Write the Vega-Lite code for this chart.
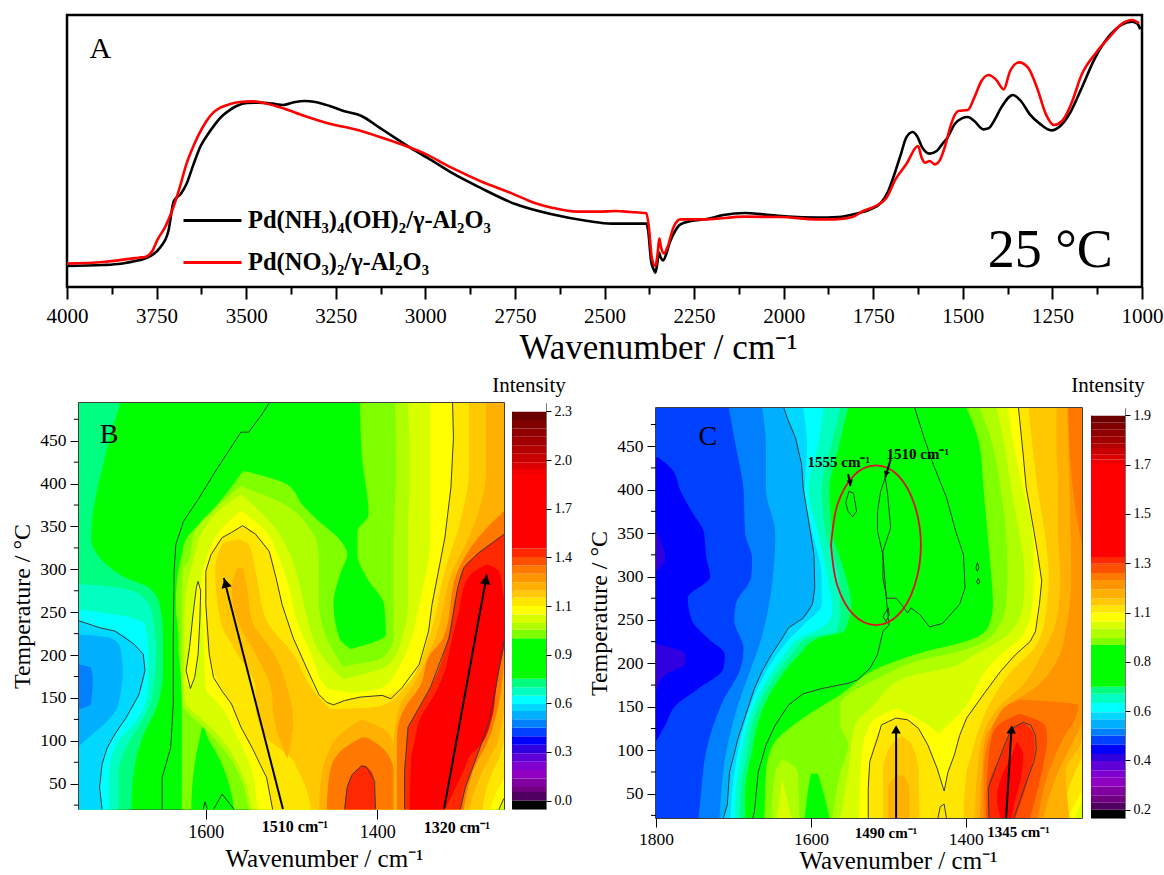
{"$schema":"https://vega.github.io/schema/vega-lite/v6.json","background":"white","padding":{"left":10,"top":13,"right":0,"bottom":0},"config":{"view":{"stroke":null},"font":"Liberation Serif","axis":{"grid":false,"labelFont":"Liberation Serif","titleFont":"Liberation Serif","titleFontWeight":"normal","labelColor":"black","titleColor":"black","tickColor":"black","domainColor":"black","labelOverlap":false,"labelBound":false,"labelFlush":false},"title":{"font":"Liberation Serif","fontWeight":"normal","color":"black"}},"spacing":7,"resolve":{"scale":{"color":"independent"}},"vconcat":[{"width":1075,"height":272,"view":{"stroke":"black","strokeWidth":2.5},"layer":[{"data":{"values":[
{"s":"N","w":4000,"y":63},{"s":"N","w":3900,"y":66},{"s":"N","w":3850,"y":70},{"s":"N","w":3800,"y":80},{"s":"N","w":3780,"y":86},{"s":"N","w":3759,"y":98},{"s":"N","w":3739,"y":120},{"s":"N","w":3717,"y":168},{"s":"N","w":3702,"y":258},{"s":"N","w":3682,"y":280},{"s":"N","w":3667,"y":308},{"s":"N","w":3647,"y":368},{"s":"N","w":3627,"y":423},{"s":"N","w":3607,"y":458},{"s":"N","w":3587,"y":488},{"s":"N","w":3567,"y":513},{"s":"N","w":3547,"y":530},{"s":"N","w":3527,"y":543},{"s":"N","w":3497,"y":552},{"s":"N","w":3467,"y":553},{"s":"N","w":3427,"y":550},{"s":"N","w":3397,"y":546},{"s":"N","w":3367,"y":554},{"s":"N","w":3337,"y":558},{"s":"N","w":3307,"y":555},{"s":"N","w":3267,"y":543},{"s":"N","w":3228,"y":528},{"s":"N","w":3178,"y":513},{"s":"N","w":3128,"y":478},{"s":"N","w":3078,"y":443},{"s":"N","w":3027,"y":408},{"s":"N","w":2987,"y":383},{"s":"N","w":2927,"y":343},{"s":"N","w":2847,"y":298},{"s":"N","w":2747,"y":248},{"s":"N","w":2647,"y":218},{"s":"N","w":2547,"y":198},{"s":"N","w":2480,"y":190},{"s":"N","w":2383,"y":190},{"s":"N","w":2378,"y":168},{"s":"N","w":2370,"y":78},{"s":"N","w":2363,"y":53},{"s":"N","w":2358,"y":43},{"s":"N","w":2353,"y":68},{"s":"N","w":2348,"y":103},{"s":"N","w":2343,"y":88},{"s":"N","w":2336,"y":80},{"s":"N","w":2328,"y":98},{"s":"N","w":2318,"y":133},{"s":"N","w":2303,"y":168},{"s":"N","w":2288,"y":188},{"s":"N","w":2258,"y":198},{"s":"N","w":2218,"y":203},{"s":"N","w":2168,"y":216},{"s":"N","w":2108,"y":222},{"s":"N","w":2058,"y":218},{"s":"N","w":1988,"y":211},{"s":"N","w":1908,"y":208},{"s":"N","w":1848,"y":210},{"s":"N","w":1798,"y":220},{"s":"N","w":1758,"y":233},{"s":"N","w":1728,"y":253},{"s":"N","w":1708,"y":288},{"s":"N","w":1688,"y":348},{"s":"N","w":1673,"y":398},{"s":"N","w":1658,"y":448},{"s":"N","w":1640,"y":465},{"s":"N","w":1628,"y":453},{"s":"N","w":1613,"y":418},{"s":"N","w":1593,"y":400},{"s":"N","w":1573,"y":408},{"s":"N","w":1558,"y":428},{"s":"N","w":1543,"y":448},{"s":"N","w":1523,"y":488},{"s":"N","w":1503,"y":506},{"s":"N","w":1486,"y":510},{"s":"N","w":1468,"y":498},{"s":"N","w":1443,"y":473},{"s":"N","w":1428,"y":476},{"s":"N","w":1413,"y":498},{"s":"N","w":1393,"y":538},{"s":"N","w":1360,"y":576},{"s":"N","w":1338,"y":558},{"s":"N","w":1313,"y":518},{"s":"N","w":1283,"y":488},{"s":"N","w":1253,"y":470},{"s":"N","w":1228,"y":483},{"s":"N","w":1198,"y":528},{"s":"N","w":1168,"y":598},{"s":"N","w":1133,"y":683},{"s":"N","w":1088,"y":758},{"s":"N","w":1058,"y":786},{"s":"N","w":1028,"y":796},{"s":"N","w":1013,"y":790},{"s":"N","w":1005,"y":773},
{"s":"P","w":4000,"y":70},{"s":"P","w":3900,"y":75},{"s":"P","w":3800,"y":88},{"s":"P","w":3780,"y":91},{"s":"P","w":3762,"y":108},{"s":"P","w":3747,"y":143},{"s":"P","w":3727,"y":178},{"s":"P","w":3707,"y":228},{"s":"P","w":3687,"y":293},{"s":"P","w":3667,"y":368},{"s":"P","w":3647,"y":423},{"s":"P","w":3632,"y":458},{"s":"P","w":3612,"y":496},{"s":"P","w":3592,"y":523},{"s":"P","w":3572,"y":538},{"s":"P","w":3547,"y":548},{"s":"P","w":3517,"y":555},{"s":"P","w":3482,"y":557},{"s":"P","w":3447,"y":551},{"s":"P","w":3397,"y":536},{"s":"P","w":3337,"y":513},{"s":"P","w":3267,"y":490},{"s":"P","w":3197,"y":473},{"s":"P","w":3127,"y":450},{"s":"P","w":3047,"y":420},{"s":"P","w":3007,"y":403},{"s":"P","w":2927,"y":358},{"s":"P","w":2847,"y":318},{"s":"P","w":2757,"y":280},{"s":"P","w":2697,"y":253},{"s":"P","w":2647,"y":238},{"s":"P","w":2577,"y":226},{"s":"P","w":2517,"y":226},{"s":"P","w":2468,"y":228},{"s":"P","w":2428,"y":225},{"s":"P","w":2383,"y":221},{"s":"P","w":2376,"y":178},{"s":"P","w":2368,"y":88},{"s":"P","w":2358,"y":63},{"s":"P","w":2352,"y":98},{"s":"P","w":2347,"y":146},{"s":"P","w":2342,"y":118},{"s":"P","w":2334,"y":101},{"s":"P","w":2323,"y":123},{"s":"P","w":2308,"y":178},{"s":"P","w":2288,"y":203},{"s":"P","w":2218,"y":203},{"s":"P","w":2108,"y":211},{"s":"P","w":2008,"y":210},{"s":"P","w":1908,"y":203},{"s":"P","w":1858,"y":203},{"s":"P","w":1808,"y":210},{"s":"P","w":1778,"y":228},{"s":"P","w":1738,"y":246},{"s":"P","w":1713,"y":268},{"s":"P","w":1688,"y":323},{"s":"P","w":1658,"y":368},{"s":"P","w":1625,"y":423},{"s":"P","w":1615,"y":388},{"s":"P","w":1605,"y":373},{"s":"P","w":1593,"y":378},{"s":"P","w":1578,"y":368},{"s":"P","w":1563,"y":383},{"s":"P","w":1548,"y":428},{"s":"P","w":1533,"y":488},{"s":"P","w":1513,"y":528},{"s":"P","w":1486,"y":531},{"s":"P","w":1468,"y":568},{"s":"P","w":1448,"y":618},{"s":"P","w":1428,"y":636},{"s":"P","w":1408,"y":623},{"s":"P","w":1386,"y":593},{"s":"P","w":1368,"y":648},{"s":"P","w":1343,"y":674},{"s":"P","w":1318,"y":658},{"s":"P","w":1293,"y":598},{"s":"P","w":1268,"y":518},{"s":"P","w":1246,"y":486},{"s":"P","w":1223,"y":498},{"s":"P","w":1198,"y":548},{"s":"P","w":1168,"y":638},{"s":"P","w":1128,"y":703},{"s":"P","w":1088,"y":753},{"s":"P","w":1058,"y":788},{"s":"P","w":1028,"y":801},{"s":"P","w":1008,"y":791}]},"mark":{"type":"line","strokeWidth":2.6,"interpolate":"monotone"},"encoding":{"x":{"field":"w","type":"quantitative","scale":{"domain":[4000,1000],"nice":false,"zero":false},"axis":{"title":"Wavenumber / cm⁻¹","titleFontSize":35,"titlePadding":4,"titleX":591,"labelFontSize":21,"labelPadding":6,"domain":false,"tickWidth":2,"values":[4000,3875,3750,3625,3500,3375,3250,3125,3000,2875,2750,2625,2500,2375,2250,2125,2000,1875,1750,1625,1500,1375,1250,1125,1000],"tickSize":{"condition":{"test":"datum.value % 250 === 0","value":12},"value":7},"labelExpr":"datum.value % 250 === 0 ? datum.label : ''","format":"d"}},"y":{"field":"y","type":"quantitative","scale":{"domain":[0,816],"nice":false,"zero":false},"axis":null},"color":{"field":"s","type":"nominal","scale":{"domain":["N","P"],"range":["black","#ff0000"]},"legend":{"orient":"none","legendX":115,"legendY":175,"title":null,"symbolType":"stroke","symbolSize":3364,"symbolStrokeWidth":3,"labelFont":"Liberation Serif","labelFontWeight":"bold","labelFontSize":24.5,"labelColor":"black","labelLimit":500,"rowPadding":-20,"labelOffset":5,"labelExpr":"datum.label === 'N' ? 'Pd(NH₃)₄(OH)₂/γ-Al₂O₃' : 'Pd(NO₃)₂/γ-Al₂O₃'"}}}},{"data":{"values":[{"w":3907,"y":713,"s":"A"}]},"mark":{"type":"text","fontSize":30,"font":"Liberation Serif","color":"black"},"encoding":{"x":{"field":"w","type":"quantitative","scale":{"domain":[4000,1000],"nice":false,"zero":false}},"y":{"field":"y","type":"quantitative","scale":{"domain":[0,816],"nice":false,"zero":false}},"text":{"field":"s"}}},{"data":{"values":[{"w":1256,"y":108,"s":"25 °C"}]},"mark":{"type":"text","fontSize":54,"font":"Liberation Serif","color":"black"},"encoding":{"x":{"field":"w","type":"quantitative","scale":{"domain":[4000,1000],"nice":false,"zero":false}},"y":{"field":"y","type":"quantitative","scale":{"domain":[0,816],"nice":false,"zero":false}},"text":{"field":"s"}}}]},
{"spacing":15,"resolve":{"scale":{"color":"independent"}},"hconcat":[{"bounds":"flush","spacing":8,"resolve":{"scale":{"color":"independent"}},"hconcat":[{"width":4,"height":1,"data":{"values":[]},"mark":"rect","encoding":{}},
{"width":425,"height":406,"view":{"stroke":"black","strokeWidth":1.5},"layer":[{"data":{"values":[
{"p":0,"v":0.8,"t":20,"a":1748,"b":1252},{"p":0,"v":0.8,"t":494,"a":1748,"b":1252},
{"p":1,"v":0.67,"t":494,"a":1748,"b":1700},{"p":1,"v":0.67,"t":434,"a":1748,"b":1717},{"p":1,"v":0.67,"t":337,"a":1748,"b":1734},{"p":1,"v":0.67,"t":313,"a":1748,"b":1723},{"p":1,"v":0.67,"t":290,"a":1748,"b":1693},{"p":1,"v":0.67,"t":279,"a":1748,"b":1667},{"p":1,"v":0.67,"t":259,"a":1748,"b":1654},{"p":1,"v":0.67,"t":220,"a":1748,"b":1650},{"p":1,"v":0.67,"t":182,"a":1748,"b":1650},{"p":1,"v":0.67,"t":143,"a":1748,"b":1656},{"p":1,"v":0.67,"t":104,"a":1748,"b":1674},{"p":1,"v":0.67,"t":65,"a":1748,"b":1684},{"p":1,"v":0.67,"t":20,"a":1748,"b":1687},
{"p":2,"v":0.62,"t":283,"a":1748,"b":1748},{"p":2,"v":0.62,"t":280,"a":1748,"b":1710},{"p":2,"v":0.62,"t":270,"a":1748,"b":1676},{"p":2,"v":0.62,"t":250,"a":1748,"b":1663},{"p":2,"v":0.62,"t":200,"a":1748,"b":1658},{"p":2,"v":0.62,"t":150,"a":1748,"b":1663},{"p":2,"v":0.62,"t":120,"a":1748,"b":1676},{"p":2,"v":0.62,"t":100,"a":1748,"b":1689},{"p":2,"v":0.62,"t":60,"a":1748,"b":1702},{"p":2,"v":0.62,"t":20,"a":1748,"b":1702},
{"p":3,"v":0.57,"t":253,"a":1748,"b":1748},{"p":3,"v":0.57,"t":245,"a":1748,"b":1693},{"p":3,"v":0.57,"t":235,"a":1748,"b":1671},{"p":3,"v":0.57,"t":200,"a":1748,"b":1667},{"p":3,"v":0.57,"t":150,"a":1748,"b":1669},{"p":3,"v":0.57,"t":120,"a":1748,"b":1684},{"p":3,"v":0.57,"t":100,"a":1748,"b":1702},{"p":3,"v":0.57,"t":60,"a":1748,"b":1713},{"p":3,"v":0.57,"t":20,"a":1748,"b":1713},
{"p":4,"v":0.53,"t":240,"a":1748,"b":1748},{"p":4,"v":0.53,"t":232,"a":1748,"b":1724},{"p":4,"v":0.53,"t":228,"a":1748,"b":1706},{"p":4,"v":0.53,"t":213,"a":1748,"b":1684},{"p":4,"v":0.53,"t":201,"a":1748,"b":1673},{"p":4,"v":0.53,"t":182,"a":1748,"b":1671},{"p":4,"v":0.53,"t":154,"a":1748,"b":1678},{"p":4,"v":0.53,"t":127,"a":1748,"b":1693},{"p":4,"v":0.53,"t":108,"a":1748,"b":1706},{"p":4,"v":0.53,"t":92,"a":1748,"b":1715},{"p":4,"v":0.53,"t":73,"a":1748,"b":1721},{"p":4,"v":0.53,"t":46,"a":1748,"b":1724},{"p":4,"v":0.53,"t":20,"a":1748,"b":1721},
{"p":5,"v":0.48,"t":224,"a":1748,"b":1748},{"p":5,"v":0.48,"t":220,"a":1748,"b":1711},{"p":5,"v":0.48,"t":209,"a":1748,"b":1700},{"p":5,"v":0.48,"t":182,"a":1748,"b":1697},{"p":5,"v":0.48,"t":143,"a":1748,"b":1702},{"p":5,"v":0.48,"t":119,"a":1748,"b":1719},{"p":5,"v":0.48,"t":108,"a":1748,"b":1732},{"p":5,"v":0.48,"t":94,"a":1748,"b":1748},
{"p":6,"v":0.43,"t":189,"a":1748,"b":1748},{"p":6,"v":0.43,"t":185,"a":1748,"b":1734},{"p":6,"v":0.43,"t":170,"a":1748,"b":1732},{"p":6,"v":0.43,"t":143,"a":1748,"b":1734},{"p":6,"v":0.43,"t":137,"a":1748,"b":1748},
{"p":10,"v":0.96,"t":207,"a":1632,"b":1252},{"p":10,"v":0.96,"t":143,"a":1628,"b":1252},{"p":10,"v":0.96,"t":20,"a":1628,"b":1252},
{"p":11,"v":0.96,"t":207,"a":1632,"b":1431},{"p":11,"v":0.96,"t":220,"a":1632,"b":1444},{"p":11,"v":0.96,"t":259,"a":1635,"b":1451},{"p":11,"v":0.96,"t":298,"a":1632,"b":1442},{"p":11,"v":0.96,"t":317,"a":1628,"b":1435},{"p":11,"v":0.96,"t":337,"a":1622,"b":1446},{"p":11,"v":0.96,"t":356,"a":1604,"b":1468},{"p":11,"v":0.96,"t":375,"a":1587,"b":1487},{"p":11,"v":0.96,"t":399,"a":1568,"b":1505},{"p":11,"v":0.96,"t":414,"a":1557,"b":1552},
{"p":12,"v":0.96,"t":207,"a":1431,"b":1252},{"p":12,"v":0.96,"t":224,"a":1390,"b":1252},{"p":12,"v":0.96,"t":259,"a":1392,"b":1252},{"p":12,"v":0.96,"t":290,"a":1412,"b":1252},{"p":12,"v":0.96,"t":317,"a":1423,"b":1252},{"p":12,"v":0.96,"t":344,"a":1423,"b":1252},{"p":12,"v":0.96,"t":364,"a":1410,"b":1252},{"p":12,"v":0.96,"t":434,"a":1418,"b":1252},{"p":12,"v":0.96,"t":494,"a":1420,"b":1252},
{"p":13,"v":0.8,"t":123,"a":1603,"b":1603},{"p":13,"v":0.8,"t":104,"a":1607,"b":1598},{"p":13,"v":0.8,"t":85,"a":1611,"b":1587},{"p":13,"v":0.8,"t":46,"a":1616,"b":1572},{"p":13,"v":0.8,"t":20,"a":1617,"b":1567},
{"p":14,"v":1.01,"t":187,"a":1629,"b":1252},{"p":14,"v":1.01,"t":143,"a":1627,"b":1252},{"p":14,"v":1.01,"t":123,"a":1611,"b":1252},{"p":14,"v":1.01,"t":104,"a":1591,"b":1252},{"p":14,"v":1.01,"t":65,"a":1563,"b":1252},{"p":14,"v":1.01,"t":20,"a":1550,"b":1252},
{"p":15,"v":1.01,"t":187,"a":1629,"b":1440},{"p":15,"v":1.01,"t":220,"a":1628,"b":1459},{"p":15,"v":1.01,"t":259,"a":1628,"b":1468},{"p":15,"v":1.01,"t":298,"a":1627,"b":1468},{"p":15,"v":1.01,"t":313,"a":1619,"b":1468},{"p":15,"v":1.01,"t":337,"a":1615,"b":1472},{"p":15,"v":1.01,"t":348,"a":1611,"b":1479},{"p":15,"v":1.01,"t":375,"a":1585,"b":1507},{"p":15,"v":1.01,"t":397,"a":1560,"b":1559},
{"p":16,"v":1.01,"t":187,"a":1440,"b":1252},{"p":16,"v":1.01,"t":197,"a":1394,"b":1252},{"p":16,"v":1.01,"t":220,"a":1381,"b":1252},{"p":16,"v":1.01,"t":337,"a":1381,"b":1252},{"p":16,"v":1.01,"t":414,"a":1378,"b":1252},{"p":16,"v":1.01,"t":494,"a":1379,"b":1252},
{"p":17,"v":1.05,"t":172,"a":1626,"b":1252},{"p":17,"v":1.05,"t":143,"a":1623,"b":1252},{"p":17,"v":1.05,"t":131,"a":1611,"b":1252},{"p":17,"v":1.05,"t":104,"a":1583,"b":1252},{"p":17,"v":1.05,"t":65,"a":1559,"b":1252},{"p":17,"v":1.05,"t":20,"a":1546,"b":1252},
{"p":18,"v":1.05,"t":172,"a":1626,"b":1440},{"p":18,"v":1.05,"t":201,"a":1625,"b":1466},{"p":18,"v":1.05,"t":240,"a":1625,"b":1481},{"p":18,"v":1.05,"t":279,"a":1622,"b":1490},{"p":18,"v":1.05,"t":313,"a":1614,"b":1500},{"p":18,"v":1.05,"t":344,"a":1604,"b":1516},{"p":18,"v":1.05,"t":368,"a":1585,"b":1537},{"p":18,"v":1.05,"t":387,"a":1559,"b":1559},
{"p":19,"v":1.05,"t":172,"a":1440,"b":1252},{"p":19,"v":1.05,"t":189,"a":1386,"b":1252},{"p":19,"v":1.05,"t":220,"a":1371,"b":1252},{"p":19,"v":1.05,"t":259,"a":1364,"b":1252},{"p":19,"v":1.05,"t":337,"a":1364,"b":1252},{"p":19,"v":1.05,"t":414,"a":1362,"b":1252},{"p":19,"v":1.05,"t":494,"a":1364,"b":1252},
{"p":20,"v":1.1,"t":286,"a":1609,"b":1609},{"p":20,"v":1.1,"t":275,"a":1612,"b":1606},{"p":20,"v":1.1,"t":240,"a":1615,"b":1607},{"p":20,"v":1.1,"t":201,"a":1619,"b":1609},{"p":20,"v":1.1,"t":174,"a":1623,"b":1613},{"p":20,"v":1.1,"t":161,"a":1618,"b":1618},
{"p":21,"v":1.1,"t":156,"a":1598,"b":1252},{"p":21,"v":1.1,"t":143,"a":1585,"b":1252},{"p":21,"v":1.1,"t":104,"a":1563,"b":1252},{"p":21,"v":1.1,"t":65,"a":1546,"b":1252},{"p":21,"v":1.1,"t":34,"a":1541,"b":1252},{"p":21,"v":1.1,"t":20,"a":1539,"b":1258},
{"p":22,"v":1.1,"t":156,"a":1598,"b":1429},{"p":22,"v":1.1,"t":162,"a":1600,"b":1459},{"p":22,"v":1.1,"t":201,"a":1602,"b":1477},{"p":22,"v":1.1,"t":240,"a":1604,"b":1494},{"p":22,"v":1.1,"t":279,"a":1606,"b":1503},{"p":22,"v":1.1,"t":317,"a":1598,"b":1516},{"p":22,"v":1.1,"t":348,"a":1581,"b":1533},{"p":22,"v":1.1,"t":368,"a":1559,"b":1559},
{"p":23,"v":1.1,"t":156,"a":1429,"b":1252},{"p":23,"v":1.1,"t":162,"a":1394,"b":1252},{"p":23,"v":1.1,"t":189,"a":1373,"b":1252},{"p":23,"v":1.1,"t":220,"a":1360,"b":1252},{"p":23,"v":1.1,"t":259,"a":1351,"b":1252},{"p":23,"v":1.1,"t":337,"a":1338,"b":1252},{"p":23,"v":1.1,"t":395,"a":1338,"b":1252},{"p":23,"v":1.1,"t":494,"a":1338,"b":1252},
{"p":24,"v":1.15,"t":142,"a":1570,"b":1252},{"p":24,"v":1.15,"t":116,"a":1559,"b":1252},{"p":24,"v":1.15,"t":92,"a":1546,"b":1252},{"p":24,"v":1.15,"t":57,"a":1529,"b":1252},{"p":24,"v":1.15,"t":46,"a":1527,"b":1258},{"p":24,"v":1.15,"t":20,"a":1522,"b":1269},
{"p":25,"v":1.15,"t":142,"a":1570,"b":1451},{"p":25,"v":1.15,"t":145,"a":1572,"b":1459},{"p":25,"v":1.15,"t":154,"a":1578,"b":1468},{"p":25,"v":1.15,"t":182,"a":1591,"b":1481},{"p":25,"v":1.15,"t":220,"a":1599,"b":1498},{"p":25,"v":1.15,"t":259,"a":1600,"b":1511},{"p":25,"v":1.15,"t":290,"a":1600,"b":1518},{"p":25,"v":1.15,"t":321,"a":1591,"b":1526},{"p":25,"v":1.15,"t":337,"a":1581,"b":1537},{"p":25,"v":1.15,"t":343,"a":1570,"b":1542},{"p":25,"v":1.15,"t":351,"a":1557,"b":1557},
{"p":26,"v":1.15,"t":142,"a":1451,"b":1252},{"p":26,"v":1.15,"t":147,"a":1438,"b":1252},{"p":26,"v":1.15,"t":151,"a":1420,"b":1252},{"p":26,"v":1.15,"t":153,"a":1394,"b":1252},{"p":26,"v":1.15,"t":162,"a":1371,"b":1252},{"p":26,"v":1.15,"t":189,"a":1351,"b":1252},{"p":26,"v":1.15,"t":228,"a":1340,"b":1252},{"p":26,"v":1.15,"t":259,"a":1336,"b":1252},{"p":26,"v":1.15,"t":337,"a":1321,"b":1252},{"p":26,"v":1.15,"t":395,"a":1314,"b":1252},{"p":26,"v":1.15,"t":453,"a":1311,"b":1252},{"p":26,"v":1.15,"t":494,"a":1312,"b":1252},
{"p":27,"v":1.2,"t":137,"a":1542,"b":1252},{"p":27,"v":1.2,"t":104,"a":1529,"b":1252},{"p":27,"v":1.2,"t":77,"a":1498,"b":1259},{"p":27,"v":1.2,"t":65,"a":1492,"b":1265},{"p":27,"v":1.2,"t":50,"a":1485,"b":1271},{"p":27,"v":1.2,"t":20,"a":1477,"b":1277},
{"p":28,"v":1.2,"t":137,"a":1542,"b":1455},{"p":28,"v":1.2,"t":162,"a":1542,"b":1477},{"p":28,"v":1.2,"t":201,"a":1563,"b":1498},{"p":28,"v":1.2,"t":240,"a":1583,"b":1529},{"p":28,"v":1.2,"t":298,"a":1589,"b":1542},{"p":28,"v":1.2,"t":329,"a":1581,"b":1550},{"p":28,"v":1.2,"t":335,"a":1563,"b":1562},
{"p":29,"v":1.2,"t":137,"a":1455,"b":1252},{"p":29,"v":1.2,"t":139,"a":1407,"b":1252},{"p":29,"v":1.2,"t":143,"a":1390,"b":1252},{"p":29,"v":1.2,"t":162,"a":1368,"b":1252},{"p":29,"v":1.2,"t":220,"a":1340,"b":1252},{"p":29,"v":1.2,"t":298,"a":1321,"b":1252},{"p":29,"v":1.2,"t":356,"a":1303,"b":1252},{"p":29,"v":1.2,"t":414,"a":1293,"b":1252},{"p":29,"v":1.2,"t":494,"a":1293,"b":1252},
{"p":30,"v":1.24,"t":302,"a":1563,"b":1557},{"p":30,"v":1.24,"t":279,"a":1570,"b":1552},{"p":30,"v":1.24,"t":240,"a":1563,"b":1546},{"p":30,"v":1.24,"t":201,"a":1542,"b":1520},{"p":30,"v":1.24,"t":162,"a":1524,"b":1505},{"p":30,"v":1.24,"t":123,"a":1520,"b":1498},{"p":30,"v":1.24,"t":79,"a":1505,"b":1505},
{"p":31,"v":1.24,"t":96,"a":1453,"b":1260},{"p":31,"v":1.24,"t":65,"a":1464,"b":1277},{"p":31,"v":1.24,"t":20,"a":1468,"b":1293},
{"p":32,"v":1.24,"t":96,"a":1453,"b":1381},{"p":32,"v":1.24,"t":112,"a":1438,"b":1390},{"p":32,"v":1.24,"t":125,"a":1418,"b":1418},
{"p":33,"v":1.24,"t":96,"a":1381,"b":1260},{"p":33,"v":1.24,"t":143,"a":1373,"b":1252},{"p":33,"v":1.24,"t":162,"a":1360,"b":1252},{"p":33,"v":1.24,"t":220,"a":1332,"b":1252},{"p":33,"v":1.24,"t":298,"a":1312,"b":1252},{"p":33,"v":1.24,"t":337,"a":1293,"b":1252},{"p":33,"v":1.24,"t":414,"a":1273,"b":1252},{"p":33,"v":1.24,"t":494,"a":1273,"b":1252},
{"p":34,"v":1.34,"t":20,"a":1459,"b":1381},{"p":34,"v":1.34,"t":65,"a":1455,"b":1381},{"p":34,"v":1.34,"t":92,"a":1438,"b":1394},{"p":34,"v":1.34,"t":104,"a":1418,"b":1412},
{"p":35,"v":1.34,"t":20,"a":1377,"b":1299},{"p":35,"v":1.34,"t":65,"a":1377,"b":1288},{"p":35,"v":1.34,"t":104,"a":1377,"b":1269},{"p":35,"v":1.34,"t":127,"a":1373,"b":1262},{"p":35,"v":1.34,"t":143,"a":1365,"b":1258},{"p":35,"v":1.34,"t":162,"a":1351,"b":1255},{"p":35,"v":1.34,"t":201,"a":1338,"b":1252},{"p":35,"v":1.34,"t":220,"a":1323,"b":1252},{"p":35,"v":1.34,"t":298,"a":1306,"b":1252},{"p":35,"v":1.34,"t":337,"a":1282,"b":1252},{"p":35,"v":1.34,"t":368,"a":1252,"b":1252},
{"p":36,"v":1.44,"t":20,"a":1438,"b":1402},{"p":36,"v":1.44,"t":46,"a":1435,"b":1403},{"p":36,"v":1.44,"t":61,"a":1429,"b":1405},{"p":36,"v":1.44,"t":71,"a":1418,"b":1414},
{"p":37,"v":1.44,"t":20,"a":1368,"b":1303},{"p":37,"v":1.44,"t":46,"a":1368,"b":1297},{"p":37,"v":1.44,"t":65,"a":1368,"b":1290},{"p":37,"v":1.44,"t":92,"a":1366,"b":1280},{"p":37,"v":1.44,"t":116,"a":1364,"b":1272},{"p":37,"v":1.44,"t":127,"a":1358,"b":1268},{"p":37,"v":1.44,"t":162,"a":1338,"b":1262},{"p":37,"v":1.44,"t":182,"a":1329,"b":1258},{"p":37,"v":1.44,"t":216,"a":1318,"b":1252},{"p":37,"v":1.44,"t":279,"a":1306,"b":1252},{"p":37,"v":1.44,"t":302,"a":1299,"b":1252},{"p":37,"v":1.44,"t":319,"a":1282,"b":1252},{"p":37,"v":1.44,"t":341,"a":1252,"b":1252},
{"p":38,"v":1.49,"t":20,"a":1362,"b":1321},{"p":38,"v":1.49,"t":65,"a":1361,"b":1299},{"p":38,"v":1.49,"t":85,"a":1360,"b":1290},{"p":38,"v":1.49,"t":92,"a":1358,"b":1282},{"p":38,"v":1.49,"t":123,"a":1351,"b":1267},{"p":38,"v":1.49,"t":162,"a":1329,"b":1261},{"p":38,"v":1.49,"t":182,"a":1321,"b":1258},{"p":38,"v":1.49,"t":213,"a":1314,"b":1252},{"p":38,"v":1.49,"t":259,"a":1303,"b":1252},{"p":38,"v":1.49,"t":279,"a":1299,"b":1254},{"p":38,"v":1.49,"t":298,"a":1286,"b":1258},{"p":38,"v":1.49,"t":306,"a":1272,"b":1272}
]},"mark":{"type":"area","orient":"horizontal","interpolate":"monotone"},"encoding":{"y":{"field":"t","type":"quantitative","scale":{"domain":[20.5,494],"nice":false,"zero":false},"axis":{"title":"Temperature / °C","titleFontSize":24,"titlePadding":5,"labelFontSize":17.5,"labelPadding":4,"domain":false,"values":[50,100,150,200,250,300,350,400,450],"tickSize":9,"format":"d"}},"x":{"field":"a","type":"quantitative","scale":{"domain":[1748,1252],"nice":false,"zero":false},"axis":{"title":"Wavenumber / cm⁻¹","titleFontSize":25,"titlePadding":5,"titleX":245,"labelFontSize":18,"labelPadding":4,"domain":false,"values":[1600,1400],"tickSize":10,"format":"d"}},"x2":{"field":"b"},"color":{"field":"v","type":"quantitative","scale":{"type":"threshold","domain":[0,0.05,0.08,0.13,0.18,0.23,0.28,0.33,0.38,0.43,0.48,0.53,0.57,0.62,0.67,0.72,0.96,1.01,1.05,1.1,1.15,1.2,1.24,1.29,1.34,1.39,1.44,1.49,1.93,1.96,2,2.05,2.1,2.15,2.2,2.25,2.3],"range":["#000000","#500060","#700080","#8000a0","#9000c0","#8000d0","#6000d8","#3000e0","#0000ff","#0040ff","#0080ff","#00b0ff","#00d8ff","#00ffff","#00ffc0","#00ff80","#00ff00","#80ff00","#b0ff00","#d8ff00","#ffff00","#ffe600","#ffc800","#ffb000","#ff9600","#ff7800","#ff5000","#ff2800","#ff0000","#f00000","#dc0000","#c80000","#b50000","#a00000","#900000","#800000","#6b0000","#ffffff"]},"legend":null},"detail":{"field":"p"}}},
{"data":{"values":[{"t":25},{"t":75},{"t":125},{"t":175},{"t":225},{"t":275},{"t":325},{"t":375},{"t":425},{"t":475}]},"mark":{"type":"rule","color":"black","strokeWidth":1},"encoding":{"y":{"field":"t","type":"quantitative","scale":{"domain":[20.5,494],"nice":false,"zero":false}},"x":{"datum":1748,"type":"quantitative","scale":{"domain":[1748,1252],"nice":false,"zero":false}},"x2":{"datum":1754}}},
{"data":{"values":[
{"c":1,"w":1748,"t":240},{"c":1,"w":1724,"t":232},{"c":1,"w":1706,"t":228},{"c":1,"w":1684,"t":213},{"c":1,"w":1673,"t":201},{"c":1,"w":1671,"t":182},{"c":1,"w":1678,"t":154},{"c":1,"w":1693,"t":127},{"c":1,"w":1706,"t":108},{"c":1,"w":1715,"t":92},{"c":1,"w":1721,"t":73},{"c":1,"w":1724,"t":46},{"c":1,"w":1721,"t":20},
{"c":2,"w":1526,"t":494},{"c":2,"w":1535,"t":480},{"c":2,"w":1550,"t":460},{"c":2,"w":1559,"t":460},{"c":2,"w":1576,"t":434},{"c":2,"w":1589,"t":414},{"c":2,"w":1608,"t":383},{"c":2,"w":1626,"t":356},{"c":2,"w":1635,"t":329},{"c":2,"w":1637,"t":298},{"c":2,"w":1638,"t":220},{"c":2,"w":1638,"t":143},{"c":2,"w":1641,"t":92},{"c":2,"w":1651,"t":57},{"c":2,"w":1651,"t":20},
{"c":3,"w":1522,"t":20},{"c":3,"w":1529,"t":57},{"c":3,"w":1546,"t":92},{"c":3,"w":1559,"t":116},{"c":3,"w":1570,"t":143},{"c":3,"w":1581,"t":158},{"c":3,"w":1591,"t":174},{"c":3,"w":1596,"t":201},{"c":3,"w":1600,"t":259},{"c":3,"w":1600,"t":298},{"c":3,"w":1594,"t":317},{"c":3,"w":1581,"t":337},{"c":3,"w":1570,"t":343},{"c":3,"w":1557,"t":351},{"c":3,"w":1542,"t":341},{"c":3,"w":1526,"t":321},{"c":3,"w":1518,"t":290},{"c":3,"w":1511,"t":259},{"c":3,"w":1498,"t":220},{"c":3,"w":1481,"t":182},{"c":3,"w":1468,"t":154},{"c":3,"w":1459,"t":145},{"c":3,"w":1451,"t":142},{"c":3,"w":1438,"t":147},{"c":3,"w":1420,"t":151},{"c":3,"w":1394,"t":153},{"c":3,"w":1384,"t":149},{"c":3,"w":1371,"t":162},{"c":3,"w":1351,"t":189},{"c":3,"w":1340,"t":228},{"c":3,"w":1336,"t":259},{"c":3,"w":1321,"t":337},{"c":3,"w":1314,"t":395},{"c":3,"w":1311,"t":453},{"c":3,"w":1312,"t":494},
{"c":4,"w":1609,"t":286},{"c":4,"w":1606,"t":275},{"c":4,"w":1607,"t":240},{"c":4,"w":1609,"t":201},{"c":4,"w":1613,"t":174},{"c":4,"w":1618,"t":161},{"c":4,"w":1623,"t":182},{"c":4,"w":1619,"t":209},{"c":4,"w":1615,"t":247},{"c":4,"w":1611,"t":279},{"c":4,"w":1609,"t":286},
{"c":5,"w":1438,"t":20},{"c":5,"w":1435,"t":46},{"c":5,"w":1429,"t":61},{"c":5,"w":1418,"t":71},{"c":5,"w":1412,"t":69},{"c":5,"w":1403,"t":53},{"c":5,"w":1402,"t":20},
{"c":6,"w":1252,"t":341},{"c":6,"w":1282,"t":319},{"c":6,"w":1299,"t":302},{"c":6,"w":1306,"t":279},{"c":6,"w":1316,"t":220},{"c":6,"w":1338,"t":162},{"c":6,"w":1364,"t":116},{"c":6,"w":1368,"t":65},{"c":6,"w":1368,"t":20},
{"c":7,"w":1303,"t":20},{"c":7,"w":1297,"t":46},{"c":7,"w":1290,"t":65},{"c":7,"w":1280,"t":92},{"c":7,"w":1268,"t":127},{"c":7,"w":1258,"t":182},{"c":7,"w":1252,"t":216},
{"c":8,"w":1603,"t":20},{"c":8,"w":1601,"t":29},{"c":8,"w":1598,"t":20},{"c":9,"w":1591,"t":20},{"c":9,"w":1581,"t":38},{"c":9,"w":1567,"t":20},{"c":10,"w":1258,"t":20},{"c":10,"w":1252,"t":33}
]},"mark":{"type":"line","color":"#3c3c3c","strokeWidth":1},"encoding":{"x":{"field":"w","type":"quantitative","scale":{"domain":[1748,1252],"nice":false,"zero":false}},"y":{"field":"t","type":"quantitative","scale":{"domain":[20.5,494],"nice":false,"zero":false}},"detail":{"field":"c"},"order":{"value":null}}},
{"data":{"values":[{"w":1510,"t":20.5,"w2":1579,"t2":290},{"w":1322,"t":20.5,"w2":1272,"t2":294}]},"mark":{"type":"rule","color":"black","strokeWidth":2},"encoding":{"x":{"field":"w","type":"quantitative","scale":{"domain":[1748,1252],"nice":false,"zero":false}},"y":{"field":"t","type":"quantitative","scale":{"domain":[20.5,494],"nice":false,"zero":false}},"x2":{"field":"w2"},"y2":{"field":"t2"}}},
{"data":{"values":[{"w":1577,"t":284}]},"mark":{"type":"point","shape":"triangle-up","filled":true,"color":"black","size":110,"angle":346,"opacity":1},"encoding":{"x":{"field":"w","type":"quantitative","scale":{"domain":[1748,1252],"nice":false,"zero":false}},"y":{"field":"t","type":"quantitative","scale":{"domain":[20.5,494],"nice":false,"zero":false}}}},
{"data":{"values":[{"w":1273,"t":288}]},"mark":{"type":"point","shape":"triangle-up","filled":true,"color":"black","size":110,"angle":10,"opacity":1},"encoding":{"x":{"field":"w","type":"quantitative","scale":{"domain":[1748,1252],"nice":false,"zero":false}},"y":{"field":"t","type":"quantitative","scale":{"domain":[20.5,494],"nice":false,"zero":false}}}},
{"data":{"values":[{"w":1496,"t":0,"s":"1510 cm⁻¹"},{"w":1307,"t":-2,"s":"1320 cm⁻¹"}]},"mark":{"type":"text","font":"Liberation Serif","fontWeight":"bold","fontSize":16,"color":"black"},"encoding":{"x":{"field":"w","type":"quantitative","scale":{"domain":[1748,1252],"nice":false,"zero":false}},"y":{"field":"t","type":"quantitative","scale":{"domain":[20.5,494],"nice":false,"zero":false}},"text":{"field":"s"}}},
{"data":{"values":[{"w":1713,"t":457,"s":"B"}]},"mark":{"type":"text","font":"Liberation Serif","fontSize":28,"color":"black"},"encoding":{"x":{"field":"w","type":"quantitative","scale":{"domain":[1748,1252],"nice":false,"zero":false}},"y":{"field":"t","type":"quantitative","scale":{"domain":[20.5,494],"nice":false,"zero":false}},"text":{"field":"s"}}}]},
{"width":34,"height":406,"title":{"text":"Intensity","fontSize":21,"offset":7},"view":{"stroke":"#777777","strokeWidth":1},"data":{"values":[{"lo":-0.05,"hi":0},{"lo":0,"hi":0.05},{"lo":0.05,"hi":0.08},{"lo":0.08,"hi":0.13},{"lo":0.13,"hi":0.18},{"lo":0.18,"hi":0.23},{"lo":0.23,"hi":0.28},{"lo":0.28,"hi":0.33},{"lo":0.33,"hi":0.38},{"lo":0.38,"hi":0.43},{"lo":0.43,"hi":0.48},{"lo":0.48,"hi":0.53},{"lo":0.53,"hi":0.57},{"lo":0.57,"hi":0.62},{"lo":0.62,"hi":0.67},{"lo":0.67,"hi":0.72},{"lo":0.72,"hi":0.96},{"lo":0.96,"hi":1.01},{"lo":1.01,"hi":1.05},{"lo":1.05,"hi":1.1},{"lo":1.1,"hi":1.15},{"lo":1.15,"hi":1.2},{"lo":1.2,"hi":1.24},{"lo":1.24,"hi":1.29},{"lo":1.29,"hi":1.34},{"lo":1.34,"hi":1.39},{"lo":1.39,"hi":1.44},{"lo":1.44,"hi":1.49},{"lo":1.49,"hi":1.93},{"lo":1.93,"hi":1.96},{"lo":1.96,"hi":2},{"lo":2,"hi":2.05},{"lo":2.05,"hi":2.1},{"lo":2.1,"hi":2.15},{"lo":2.15,"hi":2.2},{"lo":2.2,"hi":2.25},{"lo":2.25,"hi":2.3},{"lo":2.3,"hi":2.35}]},"mark":"rect","encoding":{"y":{"field":"lo","type":"quantitative","scale":{"domain":[-0.05,2.35],"nice":false,"zero":false},"axis":{"orient":"right","title":null,"domain":false,"values":[0,0.2875,0.575,0.8625,1.15,1.4375,1.725,2.0125,2.3],"format":".1f","labelFontSize":14,"tickSize":5,"labelPadding":3}},"y2":{"field":"hi"},"color":{"field":"lo","type":"quantitative","scale":{"type":"threshold","domain":[0,0.05,0.08,0.13,0.18,0.23,0.28,0.33,0.38,0.43,0.48,0.53,0.57,0.62,0.67,0.72,0.96,1.01,1.05,1.1,1.15,1.2,1.24,1.29,1.34,1.39,1.44,1.49,1.93,1.96,2,2.05,2.1,2.15,2.2,2.25,2.3],"range":["#000000","#500060","#700080","#8000a0","#9000c0","#8000d0","#6000d8","#3000e0","#0000ff","#0040ff","#0080ff","#00b0ff","#00d8ff","#00ffff","#00ffc0","#00ff80","#00ff00","#80ff00","#b0ff00","#d8ff00","#ffff00","#ffe600","#ffc800","#ffb000","#ff9600","#ff7800","#ff5000","#ff2800","#ff0000","#f00000","#dc0000","#c80000","#b50000","#a00000","#900000","#800000","#6b0000","#ffffff"]},"legend":null}}}]},
{"bounds":"flush","columns":2,"spacing":{"row":0,"column":9},"resolve":{"scale":{"color":"independent"}},"concat":[{"width":426,"height":5,"data":{"values":[]},"mark":"rect","encoding":{}},{"width":34,"height":5,"data":{"values":[]},"mark":"rect","encoding":{}},
{"width":426,"height":410,"view":{"stroke":"black","strokeWidth":1.5},"layer":[{"data":{"values":[
{"p":0,"v":0.8,"t":22,"a":1800,"b":1250},{"p":0,"v":0.8,"t":494,"a":1800,"b":1250},
{"p":1,"v":0.7,"t":494,"a":1800,"b":1552},{"p":1,"v":0.7,"t":450,"a":1800,"b":1564},{"p":1,"v":0.7,"t":400,"a":1800,"b":1576},{"p":1,"v":0.7,"t":350,"a":1800,"b":1572},{"p":1,"v":0.7,"t":300,"a":1800,"b":1555},{"p":1,"v":0.7,"t":268,"a":1800,"b":1548},{"p":1,"v":0.7,"t":237,"a":1800,"b":1557},{"p":1,"v":0.7,"t":229,"a":1800,"b":1591},{"p":1,"v":0.7,"t":210,"a":1800,"b":1615},{"p":1,"v":0.7,"t":171,"a":1800,"b":1649},{"p":1,"v":0.7,"t":133,"a":1800,"b":1668},{"p":1,"v":0.7,"t":100,"a":1800,"b":1676},{"p":1,"v":0.7,"t":50,"a":1800,"b":1685},{"p":1,"v":0.7,"t":22,"a":1800,"b":1685},
{"p":2,"v":0.66,"t":494,"a":1800,"b":1562},{"p":2,"v":0.66,"t":450,"a":1800,"b":1574},{"p":2,"v":0.66,"t":400,"a":1800,"b":1586},{"p":2,"v":0.66,"t":350,"a":1800,"b":1581},{"p":2,"v":0.66,"t":300,"a":1800,"b":1564},{"p":2,"v":0.66,"t":260,"a":1800,"b":1562},{"p":2,"v":0.66,"t":237,"a":1800,"b":1567},{"p":2,"v":0.66,"t":229,"a":1800,"b":1605},{"p":2,"v":0.66,"t":210,"a":1800,"b":1625},{"p":2,"v":0.66,"t":171,"a":1800,"b":1656},{"p":2,"v":0.66,"t":133,"a":1800,"b":1675},{"p":2,"v":0.66,"t":100,"a":1800,"b":1682},{"p":2,"v":0.66,"t":50,"a":1800,"b":1691},{"p":2,"v":0.66,"t":22,"a":1800,"b":1692},
{"p":3,"v":0.62,"t":494,"a":1800,"b":1584},{"p":3,"v":0.62,"t":450,"a":1800,"b":1591},{"p":3,"v":0.62,"t":400,"a":1800,"b":1603},{"p":3,"v":0.62,"t":350,"a":1800,"b":1591},{"p":3,"v":0.62,"t":300,"a":1800,"b":1579},{"p":3,"v":0.62,"t":260,"a":1800,"b":1572},{"p":3,"v":0.62,"t":241,"a":1800,"b":1586},{"p":3,"v":0.62,"t":229,"a":1800,"b":1615},{"p":3,"v":0.62,"t":210,"a":1800,"b":1634},{"p":3,"v":0.62,"t":171,"a":1800,"b":1663},{"p":3,"v":0.62,"t":133,"a":1800,"b":1681},{"p":3,"v":0.62,"t":100,"a":1800,"b":1689},{"p":3,"v":0.62,"t":50,"a":1800,"b":1697},{"p":3,"v":0.62,"t":22,"a":1800,"b":1698},
{"p":4,"v":0.59,"t":494,"a":1800,"b":1610},{"p":4,"v":0.59,"t":450,"a":1800,"b":1605},{"p":4,"v":0.59,"t":400,"a":1800,"b":1608},{"p":4,"v":0.59,"t":350,"a":1800,"b":1598},{"p":4,"v":0.59,"t":300,"a":1800,"b":1586},{"p":4,"v":0.59,"t":268,"a":1800,"b":1586},{"p":4,"v":0.59,"t":244,"a":1800,"b":1610},{"p":4,"v":0.59,"t":229,"a":1800,"b":1627},{"p":4,"v":0.59,"t":210,"a":1800,"b":1644},{"p":4,"v":0.59,"t":171,"a":1800,"b":1669},{"p":4,"v":0.59,"t":133,"a":1800,"b":1685},{"p":4,"v":0.59,"t":100,"a":1800,"b":1694},{"p":4,"v":0.59,"t":50,"a":1800,"b":1702},{"p":4,"v":0.59,"t":22,"a":1800,"b":1704},
{"p":5,"v":0.55,"t":494,"a":1800,"b":1635},{"p":5,"v":0.55,"t":479,"a":1800,"b":1629},{"p":5,"v":0.55,"t":460,"a":1800,"b":1620},{"p":5,"v":0.55,"t":429,"a":1800,"b":1612},{"p":5,"v":0.55,"t":402,"a":1800,"b":1610},{"p":5,"v":0.55,"t":364,"a":1800,"b":1603},{"p":5,"v":0.55,"t":325,"a":1800,"b":1596},{"p":5,"v":0.55,"t":287,"a":1800,"b":1595},{"p":5,"v":0.55,"t":268,"a":1800,"b":1598},{"p":5,"v":0.55,"t":252,"a":1800,"b":1610},{"p":5,"v":0.55,"t":241,"a":1800,"b":1629},{"p":5,"v":0.55,"t":229,"a":1800,"b":1637},{"p":5,"v":0.55,"t":210,"a":1800,"b":1651},{"p":5,"v":0.55,"t":191,"a":1800,"b":1663},{"p":5,"v":0.55,"t":171,"a":1800,"b":1673},{"p":5,"v":0.55,"t":152,"a":1800,"b":1680},{"p":5,"v":0.55,"t":133,"a":1800,"b":1687},{"p":5,"v":0.55,"t":114,"a":1800,"b":1694},{"p":5,"v":0.55,"t":75,"a":1800,"b":1705},{"p":5,"v":0.55,"t":37,"a":1800,"b":1708},{"p":5,"v":0.55,"t":22,"a":1800,"b":1713},
{"p":6,"v":0.52,"t":494,"a":1800,"b":1663},{"p":6,"v":0.52,"t":450,"a":1800,"b":1658},{"p":6,"v":0.52,"t":400,"a":1800,"b":1658},{"p":6,"v":0.52,"t":350,"a":1800,"b":1646},{"p":6,"v":0.52,"t":300,"a":1800,"b":1649},{"p":6,"v":0.52,"t":250,"a":1800,"b":1658},{"p":6,"v":0.52,"t":217,"a":1800,"b":1668},{"p":6,"v":0.52,"t":200,"a":1800,"b":1675},{"p":6,"v":0.52,"t":152,"a":1800,"b":1694},{"p":6,"v":0.52,"t":100,"a":1800,"b":1709},{"p":6,"v":0.52,"t":50,"a":1800,"b":1716},{"p":6,"v":0.52,"t":22,"a":1800,"b":1718},
{"p":7,"v":0.48,"t":494,"a":1800,"b":1706},{"p":7,"v":0.48,"t":450,"a":1800,"b":1697},{"p":7,"v":0.48,"t":400,"a":1800,"b":1687},{"p":7,"v":0.48,"t":350,"a":1800,"b":1685},{"p":7,"v":0.48,"t":321,"a":1800,"b":1676},{"p":7,"v":0.48,"t":300,"a":1800,"b":1677},{"p":7,"v":0.48,"t":268,"a":1800,"b":1697},{"p":7,"v":0.48,"t":250,"a":1800,"b":1699},{"p":7,"v":0.48,"t":217,"a":1800,"b":1687},{"p":7,"v":0.48,"t":200,"a":1800,"b":1689},{"p":7,"v":0.48,"t":152,"a":1800,"b":1716},{"p":7,"v":0.48,"t":100,"a":1800,"b":1735},{"p":7,"v":0.48,"t":50,"a":1800,"b":1742},{"p":7,"v":0.48,"t":22,"a":1800,"b":1745},
{"p":8,"v":0.44,"t":437,"a":1800,"b":1797},{"p":8,"v":0.44,"t":422,"a":1800,"b":1778},{"p":8,"v":0.44,"t":400,"a":1800,"b":1769},{"p":8,"v":0.44,"t":375,"a":1800,"b":1754},{"p":8,"v":0.44,"t":350,"a":1800,"b":1738},{"p":8,"v":0.44,"t":321,"a":1800,"b":1735},{"p":8,"v":0.44,"t":300,"a":1800,"b":1730},{"p":8,"v":0.44,"t":275,"a":1800,"b":1759},{"p":8,"v":0.44,"t":250,"a":1800,"b":1754},{"p":8,"v":0.44,"t":229,"a":1800,"b":1733},{"p":8,"v":0.44,"t":210,"a":1800,"b":1711},{"p":8,"v":0.44,"t":194,"a":1800,"b":1713},{"p":8,"v":0.44,"t":171,"a":1800,"b":1745},{"p":8,"v":0.44,"t":152,"a":1800,"b":1774},{"p":8,"v":0.44,"t":129,"a":1800,"b":1788},{"p":8,"v":0.44,"t":110,"a":1800,"b":1800},
{"p":9,"v":0.41,"t":352,"a":1800,"b":1800},{"p":9,"v":0.41,"t":321,"a":1800,"b":1788},{"p":9,"v":0.41,"t":306,"a":1800,"b":1800},
{"p":10,"v":0.41,"t":223,"a":1800,"b":1800},{"p":10,"v":0.41,"t":210,"a":1800,"b":1762},{"p":10,"v":0.41,"t":200,"a":1800,"b":1762},{"p":10,"v":0.41,"t":187,"a":1800,"b":1788},{"p":10,"v":0.41,"t":167,"a":1800,"b":1800},
{"p":11,"v":0.91,"t":494,"a":1399,"b":1250},{"p":11,"v":0.91,"t":450,"a":1382,"b":1250},{"p":11,"v":0.91,"t":400,"a":1377,"b":1250},{"p":11,"v":0.91,"t":350,"a":1372,"b":1250},{"p":11,"v":0.91,"t":300,"a":1367,"b":1250},{"p":11,"v":0.91,"t":268,"a":1365,"b":1250},{"p":11,"v":0.91,"t":244,"a":1370,"b":1250},{"p":11,"v":0.91,"t":229,"a":1389,"b":1250},{"p":11,"v":0.91,"t":221,"a":1418,"b":1250},{"p":11,"v":0.91,"t":217,"a":1437,"b":1250},{"p":11,"v":0.91,"t":198,"a":1504,"b":1250},{"p":11,"v":0.91,"t":164,"a":1562,"b":1250},{"p":11,"v":0.91,"t":137,"a":1610,"b":1250},{"p":11,"v":0.91,"t":106,"a":1649,"b":1250},{"p":11,"v":0.91,"t":75,"a":1658,"b":1250},{"p":11,"v":0.91,"t":22,"a":1660,"b":1250},
{"p":12,"v":0.8,"t":73,"a":1600,"b":1591},{"p":12,"v":0.8,"t":52,"a":1604,"b":1584},{"p":12,"v":0.8,"t":22,"a":1608,"b":1576},
{"p":13,"v":0.94,"t":90,"a":1637,"b":1637},{"p":13,"v":0.94,"t":75,"a":1646,"b":1617},{"p":13,"v":0.94,"t":22,"a":1651,"b":1615},
{"p":14,"v":0.98,"t":67,"a":1637,"b":1637},{"p":14,"v":0.98,"t":22,"a":1644,"b":1625},
{"p":15,"v":0.94,"t":494,"a":1382,"b":1250},{"p":15,"v":0.94,"t":450,"a":1365,"b":1250},{"p":15,"v":0.94,"t":400,"a":1355,"b":1250},{"p":15,"v":0.94,"t":350,"a":1348,"b":1250},{"p":15,"v":0.94,"t":300,"a":1346,"b":1250},{"p":15,"v":0.94,"t":268,"a":1348,"b":1250},{"p":15,"v":0.94,"t":233,"a":1365,"b":1250},{"p":15,"v":0.94,"t":214,"a":1408,"b":1250},{"p":15,"v":0.94,"t":202,"a":1466,"b":1250},{"p":15,"v":0.94,"t":187,"a":1504,"b":1250},{"p":15,"v":0.94,"t":152,"a":1562,"b":1250},{"p":15,"v":0.94,"t":129,"a":1562,"b":1250},{"p":15,"v":0.94,"t":106,"a":1552,"b":1250},{"p":15,"v":0.94,"t":75,"a":1562,"b":1250},{"p":15,"v":0.94,"t":22,"a":1572,"b":1250},
{"p":16,"v":0.98,"t":494,"a":1360,"b":1250},{"p":16,"v":0.98,"t":450,"a":1350,"b":1250},{"p":16,"v":0.98,"t":400,"a":1341,"b":1250},{"p":16,"v":0.98,"t":350,"a":1331,"b":1250},{"p":16,"v":0.98,"t":300,"a":1324,"b":1250},{"p":16,"v":0.98,"t":268,"a":1326,"b":1250},{"p":16,"v":0.98,"t":233,"a":1346,"b":1250},{"p":16,"v":0.98,"t":210,"a":1389,"b":1250},{"p":16,"v":0.98,"t":196,"a":1418,"b":1250},{"p":16,"v":0.98,"t":183,"a":1480,"b":1250},{"p":16,"v":0.98,"t":152,"a":1519,"b":1250},{"p":16,"v":0.98,"t":129,"a":1543,"b":1250},{"p":16,"v":0.98,"t":75,"a":1552,"b":1250},{"p":16,"v":0.98,"t":22,"a":1562,"b":1250},
{"p":17,"v":1.01,"t":119,"a":1528,"b":1250},{"p":17,"v":1.01,"t":114,"a":1531,"b":1250},{"p":17,"v":1.01,"t":75,"a":1536,"b":1250},{"p":17,"v":1.01,"t":48,"a":1537,"b":1250},{"p":17,"v":1.01,"t":22,"a":1538,"b":1259},
{"p":18,"v":1.01,"t":119,"a":1528,"b":1435},{"p":18,"v":1.01,"t":133,"a":1521,"b":1456},{"p":18,"v":1.01,"t":148,"a":1490,"b":1490},
{"p":19,"v":1.01,"t":119,"a":1435,"b":1250},{"p":19,"v":1.01,"t":133,"a":1418,"b":1250},{"p":19,"v":1.01,"t":152,"a":1399,"b":1250},{"p":19,"v":1.01,"t":191,"a":1375,"b":1250},{"p":19,"v":1.01,"t":210,"a":1355,"b":1250},{"p":19,"v":1.01,"t":233,"a":1326,"b":1250},{"p":19,"v":1.01,"t":268,"a":1314,"b":1250},{"p":19,"v":1.01,"t":300,"a":1312,"b":1250},{"p":19,"v":1.01,"t":350,"a":1314,"b":1250},{"p":19,"v":1.01,"t":400,"a":1326,"b":1250},{"p":19,"v":1.01,"t":450,"a":1338,"b":1250},{"p":19,"v":1.01,"t":494,"a":1346,"b":1250},
{"p":20,"v":1.05,"t":53,"a":1526,"b":1250},{"p":20,"v":1.05,"t":22,"a":1526,"b":1269},
{"p":21,"v":1.05,"t":53,"a":1526,"b":1428},{"p":21,"v":1.05,"t":79,"a":1525,"b":1437},{"p":21,"v":1.05,"t":106,"a":1519,"b":1449},{"p":21,"v":1.05,"t":125,"a":1509,"b":1461},{"p":21,"v":1.05,"t":133,"a":1500,"b":1470},{"p":21,"v":1.05,"t":137,"a":1480,"b":1480},
{"p":22,"v":1.05,"t":53,"a":1428,"b":1250},{"p":22,"v":1.05,"t":75,"a":1423,"b":1250},{"p":22,"v":1.05,"t":94,"a":1415,"b":1250},{"p":22,"v":1.05,"t":117,"a":1408,"b":1250},{"p":22,"v":1.05,"t":137,"a":1399,"b":1250},{"p":22,"v":1.05,"t":152,"a":1387,"b":1250},{"p":22,"v":1.05,"t":167,"a":1375,"b":1250},{"p":22,"v":1.05,"t":191,"a":1355,"b":1250},{"p":22,"v":1.05,"t":210,"a":1336,"b":1250},{"p":22,"v":1.05,"t":225,"a":1317,"b":1250},{"p":22,"v":1.05,"t":237,"a":1310,"b":1250},{"p":22,"v":1.05,"t":268,"a":1305,"b":1250},{"p":22,"v":1.05,"t":295,"a":1302,"b":1250},{"p":22,"v":1.05,"t":325,"a":1307,"b":1250},{"p":22,"v":1.05,"t":352,"a":1312,"b":1250},{"p":22,"v":1.05,"t":402,"a":1322,"b":1250},{"p":22,"v":1.05,"t":441,"a":1326,"b":1250},{"p":22,"v":1.05,"t":494,"a":1332,"b":1250},
{"p":23,"v":1.08,"t":22,"a":1507,"b":1460},{"p":23,"v":1.08,"t":75,"a":1507,"b":1461},{"p":23,"v":1.08,"t":108,"a":1495,"b":1471},{"p":23,"v":1.08,"t":116,"a":1483,"b":1483},
{"p":24,"v":1.08,"t":494,"a":1319,"b":1250},{"p":24,"v":1.08,"t":450,"a":1314,"b":1250},{"p":24,"v":1.08,"t":400,"a":1307,"b":1250},{"p":24,"v":1.08,"t":350,"a":1298,"b":1250},{"p":24,"v":1.08,"t":300,"a":1293,"b":1250},{"p":24,"v":1.08,"t":250,"a":1298,"b":1250},{"p":24,"v":1.08,"t":217,"a":1312,"b":1250},{"p":24,"v":1.08,"t":191,"a":1341,"b":1250},{"p":24,"v":1.08,"t":152,"a":1370,"b":1250},{"p":24,"v":1.08,"t":114,"a":1387,"b":1250},{"p":24,"v":1.08,"t":94,"a":1393,"b":1250},{"p":24,"v":1.08,"t":75,"a":1399,"b":1259},{"p":24,"v":1.08,"t":22,"a":1403,"b":1281},
{"p":25,"v":1.11,"t":22,"a":1500,"b":1473},{"p":25,"v":1.11,"t":56,"a":1500,"b":1473},{"p":25,"v":1.11,"t":71,"a":1490,"b":1481},
{"p":26,"v":1.11,"t":494,"a":1283,"b":1250},{"p":26,"v":1.11,"t":450,"a":1283,"b":1250},{"p":26,"v":1.11,"t":400,"a":1281,"b":1250},{"p":26,"v":1.11,"t":350,"a":1281,"b":1250},{"p":26,"v":1.11,"t":300,"a":1278,"b":1250},{"p":26,"v":1.11,"t":250,"a":1283,"b":1250},{"p":26,"v":1.11,"t":210,"a":1302,"b":1250},{"p":26,"v":1.11,"t":171,"a":1331,"b":1250},{"p":26,"v":1.11,"t":152,"a":1355,"b":1250},{"p":26,"v":1.11,"t":114,"a":1379,"b":1250},{"p":26,"v":1.11,"t":75,"a":1385,"b":1271},{"p":26,"v":1.11,"t":22,"a":1389,"b":1266},
{"p":27,"v":1.15,"t":494,"a":1269,"b":1250},{"p":27,"v":1.15,"t":400,"a":1266,"b":1250},{"p":27,"v":1.15,"t":300,"a":1264,"b":1250},{"p":27,"v":1.15,"t":237,"a":1271,"b":1250},{"p":27,"v":1.15,"t":202,"a":1283,"b":1250},{"p":27,"v":1.15,"t":171,"a":1312,"b":1250},{"p":27,"v":1.15,"t":152,"a":1346,"b":1250},{"p":27,"v":1.15,"t":133,"a":1362,"b":1250},{"p":27,"v":1.15,"t":114,"a":1375,"b":1259},{"p":27,"v":1.15,"t":75,"a":1379,"b":1281},{"p":27,"v":1.15,"t":22,"a":1382,"b":1300},
{"p":28,"v":1.19,"t":494,"a":1268,"b":1250},{"p":28,"v":1.19,"t":422,"a":1264,"b":1250},{"p":28,"v":1.19,"t":364,"a":1256,"b":1250},{"p":28,"v":1.19,"t":337,"a":1250,"b":1250},
{"p":29,"v":1.19,"t":22,"a":1377,"b":1307},{"p":29,"v":1.19,"t":75,"a":1377,"b":1293},{"p":29,"v":1.19,"t":114,"a":1370,"b":1274},{"p":29,"v":1.19,"t":140,"a":1358,"b":1257},{"p":29,"v":1.19,"t":152,"a":1346,"b":1255},{"p":29,"v":1.19,"t":158,"a":1331,"b":1322},
{"p":30,"v":1.22,"t":22,"a":1374,"b":1317},{"p":30,"v":1.22,"t":75,"a":1372,"b":1302},{"p":30,"v":1.22,"t":114,"a":1367,"b":1295},{"p":30,"v":1.22,"t":129,"a":1358,"b":1298},{"p":30,"v":1.22,"t":142,"a":1331,"b":1331},
{"p":31,"v":1.26,"t":22,"a":1370,"b":1336},{"p":31,"v":1.26,"t":56,"a":1371,"b":1323},{"p":31,"v":1.26,"t":85,"a":1360,"b":1314},{"p":31,"v":1.26,"t":104,"a":1350,"b":1311},{"p":31,"v":1.26,"t":117,"a":1345,"b":1312},{"p":31,"v":1.26,"t":125,"a":1341,"b":1317},{"p":31,"v":1.26,"t":132,"a":1326,"b":1326},
{"p":32,"v":1.29,"t":22,"a":1355,"b":1341},{"p":32,"v":1.29,"t":44,"a":1360,"b":1336},{"p":32,"v":1.29,"t":67,"a":1355,"b":1329},{"p":32,"v":1.29,"t":94,"a":1341,"b":1326},{"p":32,"v":1.29,"t":110,"a":1334,"b":1334}
]},"mark":{"type":"area","orient":"horizontal","interpolate":"monotone"},"encoding":{"y":{"field":"t","type":"quantitative","scale":{"domain":[22,494],"nice":false,"zero":false},"axis":{"title":"Temperature / °C","titleFontSize":24,"titlePadding":5,"labelFontSize":17.5,"labelPadding":4,"domain":false,"values":[50,100,150,200,250,300,350,400,450],"tickSize":9,"format":"d"}},"x":{"field":"a","type":"quantitative","scale":{"domain":[1800,1250],"nice":false,"zero":false},"axis":{"title":"Wavenumber / cm⁻¹","titleFontSize":25,"titlePadding":1,"titleX":242,"labelFontSize":17.5,"labelPadding":3,"domain":false,"values":[1800,1600,1400],"tickSize":9,"format":"d"}},"x2":{"field":"b"},"color":{"field":"v","type":"quantitative","scale":{"type":"threshold","domain":[0.2,0.23,0.26,0.3,0.34,0.37,0.41,0.44,0.48,0.52,0.55,0.59,0.62,0.66,0.7,0.73,0.91,0.94,0.98,1.01,1.05,1.08,1.11,1.15,1.19,1.22,1.26,1.29,1.69,1.71,1.73,1.76,1.78,1.81,1.84,1.87,1.9],"range":["#000000","#500060","#700080","#8000a0","#9000c0","#8000d0","#6000d8","#3000e0","#0000ff","#0040ff","#0080ff","#00b0ff","#00d8ff","#00ffff","#00ffc0","#00ff80","#00ff00","#80ff00","#b0ff00","#d8ff00","#ffff00","#ffe600","#ffc800","#ffb000","#ff9600","#ff7800","#ff5000","#ff2800","#ff0000","#f00000","#dc0000","#c80000","#b50000","#a00000","#900000","#800000","#6b0000","#ffffff"]},"legend":null},"detail":{"field":"p"}}},
{"data":{"values":[{"t":25},{"t":75},{"t":125},{"t":175},{"t":225},{"t":275},{"t":325},{"t":375},{"t":425},{"t":475}]},"mark":{"type":"rule","color":"black","strokeWidth":1},"encoding":{"y":{"field":"t","type":"quantitative","scale":{"domain":[22,494],"nice":false,"zero":false}},"x":{"datum":1800,"type":"quantitative","scale":{"domain":[1800,1250],"nice":false,"zero":false}},"x2":{"datum":1806.5}}},
{"data":{"values":[
{"c":1,"w":1635,"t":494},{"c":1,"w":1629,"t":479},{"c":1,"w":1620,"t":460},{"c":1,"w":1612,"t":429},{"c":1,"w":1610,"t":402},{"c":1,"w":1603,"t":364},{"c":1,"w":1596,"t":325},{"c":1,"w":1595,"t":287},{"c":1,"w":1598,"t":268},{"c":1,"w":1610,"t":252},{"c":1,"w":1629,"t":241},{"c":1,"w":1637,"t":229},{"c":1,"w":1651,"t":210},{"c":1,"w":1663,"t":191},{"c":1,"w":1673,"t":171},{"c":1,"w":1680,"t":152},{"c":1,"w":1687,"t":133},{"c":1,"w":1694,"t":114},{"c":1,"w":1705,"t":75},{"c":1,"w":1708,"t":37},{"c":1,"w":1713,"t":22},
{"c":2,"w":1675,"t":22},{"c":2,"w":1673,"t":29},{"c":2,"w":1668,"t":75},{"c":2,"w":1658,"t":106},{"c":2,"w":1646,"t":129},{"c":2,"w":1629,"t":152},{"c":2,"w":1610,"t":165},{"c":2,"w":1586,"t":171},{"c":2,"w":1552,"t":177},{"c":2,"w":1540,"t":181},{"c":2,"w":1524,"t":194},{"c":2,"w":1514,"t":210},{"c":2,"w":1507,"t":237},{"c":2,"w":1499,"t":244},{"c":2,"w":1502,"t":268},{"c":2,"w":1504,"t":291},{"c":2,"w":1507,"t":325},{"c":2,"w":1514,"t":352},{"c":2,"w":1514,"t":375},{"c":2,"w":1510,"t":398},{"c":2,"w":1504,"t":414},{"c":2,"w":1501,"t":395},{"c":2,"w":1497,"t":356},{"c":2,"w":1507,"t":329},{"c":2,"w":1507,"t":298},{"c":2,"w":1502,"t":275},{"c":2,"w":1490,"t":275},{"c":2,"w":1483,"t":268},{"c":2,"w":1475,"t":258},{"c":2,"w":1471,"t":264},{"c":2,"w":1459,"t":256},{"c":2,"w":1447,"t":242},{"c":2,"w":1430,"t":246},{"c":2,"w":1408,"t":268},{"c":2,"w":1401,"t":287},{"c":2,"w":1403,"t":325},{"c":2,"w":1413,"t":352},{"c":2,"w":1425,"t":391},{"c":2,"w":1442,"t":429},{"c":2,"w":1454,"t":460},{"c":2,"w":1466,"t":494},
{"c":3,"w":1526,"t":22},{"c":3,"w":1526,"t":56},{"c":3,"w":1524,"t":87},{"c":3,"w":1514,"t":114},{"c":3,"w":1509,"t":129},{"c":3,"w":1500,"t":133},{"c":3,"w":1490,"t":137},{"c":3,"w":1475,"t":135},{"c":3,"w":1461,"t":125},{"c":3,"w":1449,"t":106},{"c":3,"w":1437,"t":79},{"c":3,"w":1428,"t":53},{"c":3,"w":1423,"t":75},{"c":3,"w":1415,"t":94},{"c":3,"w":1408,"t":117},{"c":3,"w":1399,"t":137},{"c":3,"w":1387,"t":152},{"c":3,"w":1375,"t":167},{"c":3,"w":1355,"t":191},{"c":3,"w":1336,"t":210},{"c":3,"w":1317,"t":225},{"c":3,"w":1310,"t":237},{"c":3,"w":1305,"t":268},{"c":3,"w":1302,"t":295},{"c":3,"w":1307,"t":325},{"c":3,"w":1312,"t":352},{"c":3,"w":1322,"t":402},{"c":3,"w":1326,"t":441},{"c":3,"w":1332,"t":494},
{"c":4,"w":1370,"t":22},{"c":4,"w":1371,"t":56},{"c":4,"w":1360,"t":83},{"c":4,"w":1350,"t":106},{"c":4,"w":1341,"t":125},{"c":4,"w":1326,"t":132},{"c":4,"w":1316,"t":129},{"c":4,"w":1310,"t":117},{"c":4,"w":1309,"t":102},{"c":4,"w":1312,"t":87},{"c":4,"w":1322,"t":63},{"c":4,"w":1331,"t":40},{"c":4,"w":1338,"t":22},
{"c":5,"w":1551,"t":398},{"c":5,"w":1545,"t":396},{"c":5,"w":1541,"t":375},{"c":5,"w":1546,"t":369},{"c":5,"w":1552,"t":375},{"c":5,"w":1555,"t":385},{"c":5,"w":1551,"t":398},
{"c":6,"w":1385,"t":316},{"c":6,"w":1383,"t":310},{"c":6,"w":1385,"t":306},{"c":6,"w":1387,"t":310},{"c":6,"w":1385,"t":316},
{"c":7,"w":1384,"t":298},{"c":7,"w":1382,"t":294},{"c":7,"w":1384,"t":291},{"c":7,"w":1386,"t":294},{"c":7,"w":1384,"t":298},
{"c":8,"w":1500,"t":264},{"c":8,"w":1499,"t":256},{"c":8,"w":1503,"t":248},{"c":8,"w":1507,"t":254},{"c":8,"w":1500,"t":264},
{"c":9,"w":1436,"t":22},{"c":9,"w":1433,"t":35},{"c":9,"w":1428,"t":38},{"c":9,"w":1425,"t":22}
]},"mark":{"type":"line","color":"#3c3c3c","strokeWidth":1},"encoding":{"x":{"field":"w","type":"quantitative","scale":{"domain":[1800,1250],"nice":false,"zero":false}},"y":{"field":"t","type":"quantitative","scale":{"domain":[22,494],"nice":false,"zero":false}},"detail":{"field":"c"},"order":{"value":null}}},
{"data":{"values":[{"w":1574,"t":336},{"w":1566,"t":382},{"w":1545,"t":416},{"w":1516,"t":428},{"w":1487,"t":416},{"w":1466,"t":382},{"w":1458,"t":336},{"w":1466,"t":290},{"w":1487,"t":256},{"w":1516,"t":244},{"w":1545,"t":256},{"w":1566,"t":290},{"w":1574,"t":336}]},"mark":{"type":"line","color":"#e01020","strokeWidth":1.8,"interpolate":"cardinal"},"encoding":{"x":{"field":"w","type":"quantitative","scale":{"domain":[1800,1250],"nice":false,"zero":false}},"y":{"field":"t","type":"quantitative","scale":{"domain":[22,494],"nice":false,"zero":false}},"order":{"value":null}}},
{"data":{"values":[{"w":1490,"t":22,"w2":1490,"t2":125},{"w":1348,"t":22,"w2":1341,"t2":125},{"w":1552,"t":418,"w2":1549,"t2":404},{"w":1497,"t":435,"w2":1504,"t2":414}]},"mark":{"type":"rule","color":"black","strokeWidth":2},"encoding":{"x":{"field":"w","type":"quantitative","scale":{"domain":[1800,1250],"nice":false,"zero":false}},"y":{"field":"t","type":"quantitative","scale":{"domain":[22,494],"nice":false,"zero":false}},"x2":{"field":"w2"},"y2":{"field":"t2"}}},
{"data":{"values":[{"w":1490,"t":124}]},"mark":{"type":"point","shape":"triangle-up","filled":true,"color":"black","size":90,"opacity":1},"encoding":{"x":{"field":"w","type":"quantitative","scale":{"domain":[1800,1250],"nice":false,"zero":false}},"y":{"field":"t","type":"quantitative","scale":{"domain":[22,494],"nice":false,"zero":false}}}},
{"data":{"values":[{"w":1341,"t":124}]},"mark":{"type":"point","shape":"triangle-up","filled":true,"color":"black","size":90,"angle":4,"opacity":1},"encoding":{"x":{"field":"w","type":"quantitative","scale":{"domain":[1800,1250],"nice":false,"zero":false}},"y":{"field":"t","type":"quantitative","scale":{"domain":[22,494],"nice":false,"zero":false}}}},
{"data":{"values":[{"w":1549,"t":408}]},"mark":{"type":"point","shape":"triangle-up","filled":true,"color":"black","size":40,"angle":167,"opacity":1},"encoding":{"x":{"field":"w","type":"quantitative","scale":{"domain":[1800,1250],"nice":false,"zero":false}},"y":{"field":"t","type":"quantitative","scale":{"domain":[22,494],"nice":false,"zero":false}}}},
{"data":{"values":[{"w":1503,"t":418}]},"mark":{"type":"point","shape":"triangle-up","filled":true,"color":"black","size":40,"angle":197,"opacity":1},"encoding":{"x":{"field":"w","type":"quantitative","scale":{"domain":[1800,1250],"nice":false,"zero":false}},"y":{"field":"t","type":"quantitative","scale":{"domain":[22,494],"nice":false,"zero":false}}}},
{"data":{"values":[{"w":1503,"t":5,"s":"1490 cm⁻¹"},{"w":1332,"t":6,"s":"1345 cm⁻¹"},{"w":1564,"t":432,"s":"1555 cm⁻¹"},{"w":1462,"t":441,"s":"1510 cm⁻¹"}]},"mark":{"type":"text","font":"Liberation Serif","fontWeight":"bold","fontSize":15,"color":"black"},"encoding":{"x":{"field":"w","type":"quantitative","scale":{"domain":[1800,1250],"nice":false,"zero":false}},"y":{"field":"t","type":"quantitative","scale":{"domain":[22,494],"nice":false,"zero":false}},"text":{"field":"s"}}},
{"data":{"values":[{"w":1733,"t":461,"s":"C"}]},"mark":{"type":"text","font":"Liberation Serif","fontSize":28,"color":"black"},"encoding":{"x":{"field":"w","type":"quantitative","scale":{"domain":[1800,1250],"nice":false,"zero":false}},"y":{"field":"t","type":"quantitative","scale":{"domain":[22,494],"nice":false,"zero":false}},"text":{"field":"s"}}}]},
{"width":34,"height":410,"view":{"stroke":"#777777","strokeWidth":1},"data":{"values":[{"lo":0.164,"hi":0.2},{"lo":0.2,"hi":0.23},{"lo":0.23,"hi":0.26},{"lo":0.26,"hi":0.3},{"lo":0.3,"hi":0.34},{"lo":0.34,"hi":0.37},{"lo":0.37,"hi":0.41},{"lo":0.41,"hi":0.44},{"lo":0.44,"hi":0.48},{"lo":0.48,"hi":0.52},{"lo":0.52,"hi":0.55},{"lo":0.55,"hi":0.59},{"lo":0.59,"hi":0.62},{"lo":0.62,"hi":0.66},{"lo":0.66,"hi":0.7},{"lo":0.7,"hi":0.73},{"lo":0.73,"hi":0.91},{"lo":0.91,"hi":0.94},{"lo":0.94,"hi":0.98},{"lo":0.98,"hi":1.01},{"lo":1.01,"hi":1.05},{"lo":1.05,"hi":1.08},{"lo":1.08,"hi":1.11},{"lo":1.11,"hi":1.15},{"lo":1.15,"hi":1.19},{"lo":1.19,"hi":1.22},{"lo":1.22,"hi":1.26},{"lo":1.26,"hi":1.29},{"lo":1.29,"hi":1.69},{"lo":1.69,"hi":1.71},{"lo":1.71,"hi":1.73},{"lo":1.73,"hi":1.76},{"lo":1.76,"hi":1.78},{"lo":1.78,"hi":1.81},{"lo":1.81,"hi":1.84},{"lo":1.84,"hi":1.87},{"lo":1.87,"hi":1.9},{"lo":1.9,"hi":1.932}]},"title":{"text":"Intensity","fontSize":21,"offset":12},"mark":"rect","encoding":{"y":{"field":"lo","type":"quantitative","scale":{"domain":[0.164,1.932],"nice":false,"zero":false},"axis":{"orient":"right","title":null,"domain":false,"values":[0.2,0.4125,0.625,0.8375,1.05,1.2625,1.475,1.6875,1.9],"format":".1f","labelFontSize":14,"tickSize":5,"labelPadding":3}},"y2":{"field":"hi"},"color":{"field":"lo","type":"quantitative","scale":{"type":"threshold","domain":[0.2,0.23,0.26,0.3,0.34,0.37,0.41,0.44,0.48,0.52,0.55,0.59,0.62,0.66,0.7,0.73,0.91,0.94,0.98,1.01,1.05,1.08,1.11,1.15,1.19,1.22,1.26,1.29,1.69,1.71,1.73,1.76,1.78,1.81,1.84,1.87,1.9],"range":["#000000","#500060","#700080","#8000a0","#9000c0","#8000d0","#6000d8","#3000e0","#0000ff","#0040ff","#0080ff","#00b0ff","#00d8ff","#00ffff","#00ffc0","#00ff80","#00ff00","#80ff00","#b0ff00","#d8ff00","#ffff00","#ffe600","#ffc800","#ffb000","#ff9600","#ff7800","#ff5000","#ff2800","#ff0000","#f00000","#dc0000","#c80000","#b50000","#a00000","#900000","#800000","#6b0000","#ffffff"]},"legend":null}}}]}]}]}
